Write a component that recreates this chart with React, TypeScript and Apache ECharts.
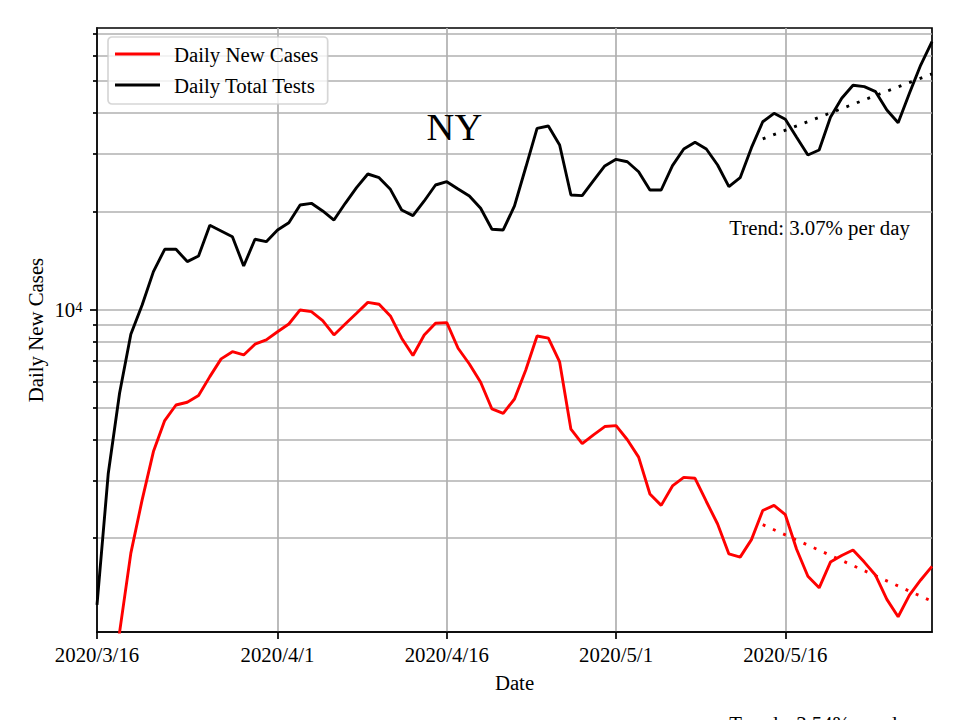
import React, { useEffect, useRef } from 'react';
import * as echarts from 'echarts';

const FONT = "'Times New Roman', 'Liberation Serif', Times, serif";

const dates = [
  '2020/3/16', '2020/3/17', '2020/3/18', '2020/3/19', '2020/3/20', '2020/3/21', '2020/3/22', '2020/3/23',
  '2020/3/24', '2020/3/25', '2020/3/26', '2020/3/27', '2020/3/28', '2020/3/29', '2020/3/30', '2020/3/31',
  '2020/4/1', '2020/4/2', '2020/4/3', '2020/4/4', '2020/4/5', '2020/4/6', '2020/4/7', '2020/4/8',
  '2020/4/9', '2020/4/10', '2020/4/11', '2020/4/12', '2020/4/13', '2020/4/14', '2020/4/15', '2020/4/16',
  '2020/4/17', '2020/4/18', '2020/4/19', '2020/4/20', '2020/4/21', '2020/4/22', '2020/4/23', '2020/4/24',
  '2020/4/25', '2020/4/26', '2020/4/27', '2020/4/28', '2020/4/29', '2020/4/30',
  '2020/5/1', '2020/5/2', '2020/5/3', '2020/5/4', '2020/5/5', '2020/5/6', '2020/5/7', '2020/5/8',
  '2020/5/9', '2020/5/10', '2020/5/11', '2020/5/12', '2020/5/13', '2020/5/14', '2020/5/15', '2020/5/16',
  '2020/5/17', '2020/5/18', '2020/5/19', '2020/5/20', '2020/5/21', '2020/5/22', '2020/5/23', '2020/5/24',
  '2020/5/25', '2020/5/26', '2020/5/27', '2020/5/28', '2020/5/29',
];

const tickDates = ['2020/3/16', '2020/4/1', '2020/4/16', '2020/5/1', '2020/5/16'];

const newCases = [
  400, 650, 1030, 1800, 2620, 3680, 4580, 5110, 5210, 5460,
  6240, 7070, 7440, 7270, 7840, 8080, 8560, 9040, 9980, 9860,
  9260, 8370, 9040, 9750, 10530, 10390, 9570, 8180, 7240, 8370,
  9090, 9130, 7620, 6820, 6000, 4970, 4820, 5330, 6540, 8310,
  8180, 6920, 4310, 3890, 4140, 4390, 4420, 4000, 3540, 2730,
  2520, 2890, 3070, 3050, 2590, 2210, 1790, 1750, 1980, 2430,
  2520, 2360, 1850, 1530, 1410, 1690, 1770, 1840, 1690, 1540,
  1300, 1150, 1340, 1490, 1640,
];

const totalTests = [
  1250, 3160, 5550, 8410, 10340, 13070, 15300, 15300, 14030, 14600,
  18120, 17410, 16720, 13600, 16420, 16140, 17530, 18450, 20900, 21150,
  20040, 18800, 21150, 23610, 26000, 25330, 23340, 20180, 19390, 21500,
  24060, 24630, 23390, 22270, 20420, 17620, 17530, 20760, 27260, 35870,
  36460, 31890, 22430, 22320, 24800, 27510, 28830, 28350, 26420, 23230,
  23230, 27570, 31000, 32500, 31000, 27700, 23780, 25330, 31290, 37570,
  39860, 38210, 33670, 29720, 30790, 38750, 44310, 48570, 48090, 46420,
  40800, 37310, 45900, 56020, 66020,
];

const testsTrend = [['2020/5/14', 33300], ['2020/5/29', 52600]];
const casesTrend = [['2020/5/14', 2200], ['2020/5/29', 1282]];

const minorTickValues = [2000, 3000, 4000, 5000, 6000, 7000, 8000, 9000, 20000, 30000, 40000, 50000, 60000, 70000];
const majorTickValues = [10000];
const yMin = 1033;
const yMax = 72700;

const titleText = 'NY';
const testsTrendText = 'Trend: 3.07% per day';
const casesTrendText = 'Trend: -3.54% per day';

export default function App() {
  const ref = useRef<HTMLDivElement>(null);
  useEffect(() => {
    if (!ref.current) return;
    const chart = echarts.init(ref.current, null, { renderer: 'svg' });
    const isTick = (_i: number, v: string) => tickDates.includes(v);
    const grayLine = { color: '#b0b0b0', width: 1.7 };
    const LW = 2.9;
    chart.setOption({
      animation: false,
      backgroundColor: '#fff',
      textStyle: { fontFamily: FONT },
      grid: {
        left: 97, top: 28, width: 835, height: 604,
        show: true, borderColor: '#000', borderWidth: 1.7, backgroundColor: 'transparent',
      },
      legend: {
        data: ['Daily New Cases', 'Daily Total Tests'],
        orient: 'vertical',
        left: 108, top: 37,
        padding: [6.5, 9.3, 8.5, 7],
        itemGap: 10,
        icon: 'rect',
        itemWidth: 45, itemHeight: LW,
        backgroundColor: 'rgba(255,255,255,0.8)',
        borderColor: 'rgba(204,204,204,0.8)',
        borderWidth: 1.7, borderRadius: 4,
        textStyle: { fontFamily: FONT, fontSize: 20.8, color: '#000', padding: [0, 0, 0, 9] },
      },
      xAxis: {
        type: 'category', data: dates, boundaryGap: false,
        axisLine: { lineStyle: { color: '#000', width: 1.7 } },
        axisTick: { show: true, length: 7, interval: isTick, lineStyle: { color: '#000', width: 1.7 } },
        axisLabel: { interval: isTick, color: '#000', fontSize: 20.8, fontFamily: FONT, margin: 12 },
        splitLine: { show: true, interval: isTick, lineStyle: grayLine },
        name: 'Date', nameLocation: 'middle', nameGap: 40,
        nameTextStyle: { color: '#000', fontSize: 20.8, fontFamily: FONT },
      },
      yAxis: [
        {
          type: 'log', logBase: 10, min: yMin, max: yMax, position: 'left',
          axisLine: { show: true, lineStyle: { color: '#000', width: 1.7 } },
          axisTick: { show: true, length: 4, customValues: minorTickValues, lineStyle: { color: '#000', width: 1.7 } },
          axisLabel: { show: false },
          splitLine: { show: true, lineStyle: grayLine },
          name: 'Daily New Cases', nameLocation: 'middle', nameGap: 51,
          nameTextStyle: { color: '#000', fontSize: 20.8, fontFamily: FONT },
        },
        {
          type: 'log', logBase: 10, min: yMin, max: yMax, position: 'left',
          axisLine: { show: false },
          axisTick: { show: true, length: 7, customValues: majorTickValues, lineStyle: { color: '#000', width: 1.7 } },
          axisLabel: {
            customValues: majorTickValues, margin: 14.5,
            formatter: () => '{a|10}{b|4}',
            rich: {
              a: { fontSize: 20.8, fontFamily: FONT, color: '#000' },
              b: { fontSize: 14.6, fontFamily: FONT, color: '#000', verticalAlign: 'top', lineHeight: 14 },
            },
          },
          splitLine: { show: true, lineStyle: grayLine },
        },
      ],
      series: [
        {
          name: 'Daily New Cases', type: 'line', data: newCases, yAxisIndex: 0,
          symbol: 'none', lineStyle: { color: '#ff0000', width: LW }, itemStyle: { color: '#ff0000' },
          silent: true, z: 4,
        },
        {
          name: 'Daily Total Tests', type: 'line', data: totalTests, yAxisIndex: 0,
          symbol: 'none', lineStyle: { color: '#000000', width: LW }, itemStyle: { color: '#000000' },
          silent: true, z: 4,
        },
        {
          name: 'tests trend', type: 'line', data: testsTrend, yAxisIndex: 0,
          symbol: 'none', lineStyle: { color: '#000000', width: LW, type: [LW, 8.3], cap: 'butt' },
          silent: true, z: 3,
        },
        {
          name: 'cases trend', type: 'line', data: casesTrend, yAxisIndex: 0,
          symbol: 'none', lineStyle: { color: '#ff0000', width: LW, type: [LW, 8.3], cap: 'butt' },
          silent: true, z: 3,
        },
      ],
      graphic: [
        {
          type: 'text', x: 454.4, y: 126.8, silent: true, z: 10,
          style: { text: titleText, fontSize: 38.5, fontFamily: FONT, fill: '#000', align: 'center', verticalAlign: 'middle' },
        },
        {
          type: 'text', x: 729.3, y: 227.5, silent: true, z: 10,
          style: { text: testsTrendText, fontSize: 20.8, fontFamily: FONT, fill: '#000', align: 'left', verticalAlign: 'middle' },
        },
        {
          type: 'text', x: 729.3, y: 723, silent: true, z: 10,
          style: { text: casesTrendText, fontSize: 20.8, fontFamily: FONT, fill: '#000', align: 'left', verticalAlign: 'middle' },
        },
      ],
    });
    return () => chart.dispose();
  }, []);
  return (
    <div
      ref={ref}
      style={{ position: 'fixed', left: 0, top: 0, width: 960, height: 720, background: '#fff', overflow: 'hidden' }}
    />
  );
}
